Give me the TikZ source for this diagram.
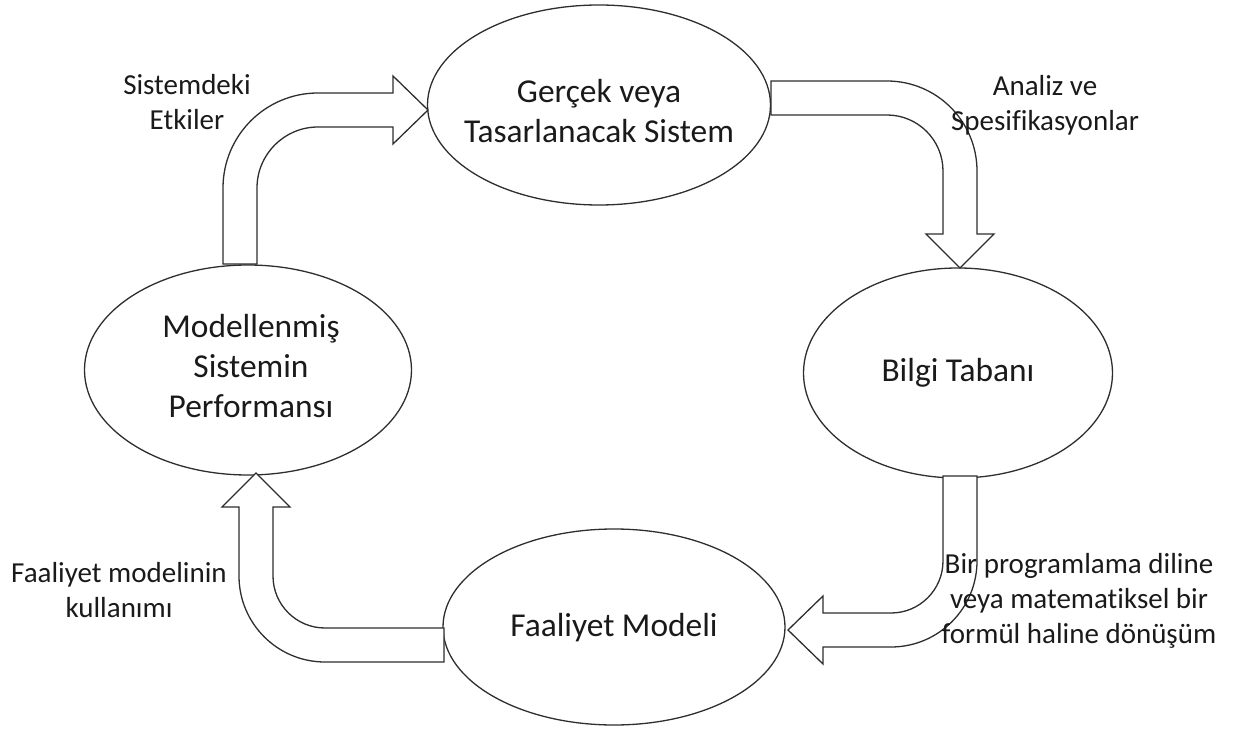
\documentclass[tikz,border=0pt]{standalone}
\usepackage{fontspec}
\setmainfont{Carlito}[Ligatures={NoCommon}]
\usetikzlibrary{shapes.geometric}
\definecolor{edge}{HTML}{2E2E2E}
\definecolor{ink}{HTML}{1A1A1A}
\tikzset{
  stage/.style={ellipse, draw=edge, line width=1.3pt, fill=white, inner sep=0pt,
    align=center, text=ink, font=\fontsize{33.4}{40}\selectfont},
  blockarrow/.style={draw=edge, line width=1.3pt, fill=white, line join=miter},
  note/.style={align=center, text=ink, font=\fontsize{29}{35}\selectfont, inner sep=0pt}
}
\begin{document}
\begin{tikzpicture}[x=1pt, y=-1pt]
\useasboundingbox (0,0) rectangle (1235,735);

% the four stages of the cycle
\node[stage, minimum width=343pt, minimum height=200pt] (real) at (599,105) {};
\node[stage, minimum width=309pt, minimum height=210pt] (base) at (958,373) {};
\node[stage, minimum width=342pt, minimum height=196pt] (model) at (614,627) {};
\node[stage, minimum width=327pt, minimum height=210pt] (perf) at (248,370) {};

\node[stage, draw=none, fill=none] (realtext) at (599,111) {Gerçek veya\\Tasarlanacak Sistem};
\node[stage, draw=none, fill=none] (basetext) at (base.center) {Bilgi Tabanı};
\node[stage, draw=none, fill=none] (modeltext) at (614,628) {Faaliyet Modeli};
\node[stage, draw=none, fill=none] (perftext) at (251,366) {Modellenmiş\\Sistemin\\Performansı};

% bent block arrows between the stages
% performance -> real system
\draw[blockarrow] (223,264) -- (223,188) .. controls (223,135.5) and (265.5,93) .. (318,93)
  -- (393,93) -- (393,76) -- (428,110) -- (393,144) -- (393,127) -- (318,127)
  .. controls (284.3,127) and (257,154.3) .. (257,188) -- (257,264) -- cycle;
% real system -> knowledge base
\draw[blockarrow] (771,81) -- (887,81) .. controls (936.7,81) and (977,121.3) .. (977,171)
  -- (977,234) -- (994,234) -- (960,268) -- (926,234) -- (943,234) -- (943,171)
  .. controls (943,140.1) and (917.9,115) .. (887,115) -- (771,115) -- cycle;
% knowledge base -> activity model
\draw[blockarrow] (943,476) -- (977,476) -- (977,561) .. controls (977,608.5) and (938.5,647) .. (891,647)
  -- (823,647) -- (823,664) -- (788,630) -- (823,596) -- (823,613) -- (891,613)
  .. controls (919.7,613) and (943,589.7) .. (943,561) -- cycle;
% activity model -> performance
\draw[blockarrow] (444,662) -- (325,662) .. controls (277.5,662) and (239,623.5) .. (239,576)
  -- (239,507) -- (222,507) -- (256,473) -- (290,507) -- (273,507) -- (273,576)
  .. controls (273,604.7) and (296.3,628) .. (325,628) -- (444,628) -- cycle;

% labels of the transitions
\node[note] (effects) at (187,102) {Sistemdeki\\Etkiler};
\node[note] (analysis) at (1045,105) {Analiz ve\\Spesifikasyonlar};
\node[note] (transform) at (1079,601) {Bir programlama diline\\veya matematiksel bir\\formül haline dönüşüm};
\node[note] (usage) at (119,590) {Faaliyet modelinin\\kullanımı};
\end{tikzpicture}
\end{document}
